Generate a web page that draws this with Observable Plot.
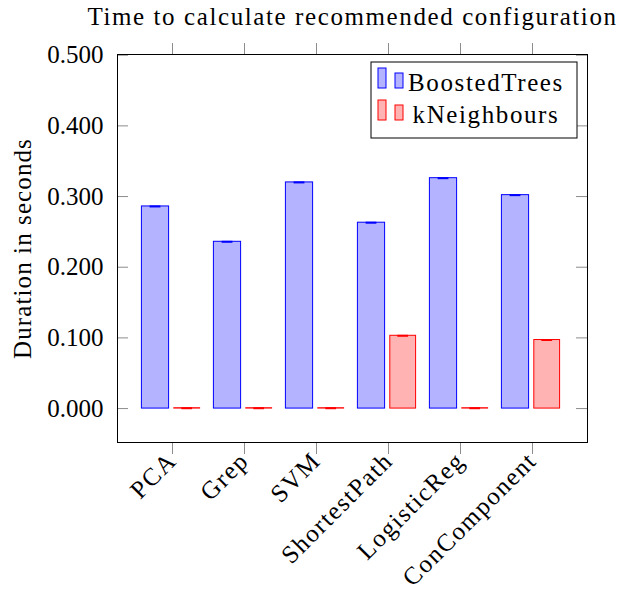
<!DOCTYPE html>
<html><head><meta charset="utf-8">
<script src="https://cdn.jsdelivr.net/npm/d3@7"></script>
<script src="https://cdn.jsdelivr.net/npm/@observablehq/plot@0.6"></script>
<style>body{margin:0;background:#fff}</style>
</head><body><div id="chart"></div>
<script>
const categories = ["PCA", "Grep", "SVM", "ShortestPath", "LogisticReg", "ConComponent"];
const seriesNames = ["BoostedTrees", "kNeighbours"];
const boostedTrees = [0.286, 0.236, 0.320, 0.263, 0.326, 0.302];
const boostedErr = [0.001, 0.001, 0.001, 0.0005, 0.001, 0.001];
const kNeighbours = [0.0005, 0.0005, 0.0005, 0.103, 0.0005, 0.097];
const kNeighboursErr = [0.0005, 0.0005, 0.0005, 0.0005, 0.0005, 0.0005];
const yTicks = [0, 0.1, 0.2, 0.3, 0.4, 0.5];
const titleText = "Time to calculate recommended configuration";
const yLabelText = "Duration in seconds";

const W = 620, H = 590, mL = 117, mR = 33, mT = 54, mB = 148;
const fw = W - mL - mR;
const FONT = "'Liberation Serif', 'Times New Roman', serif";
const FS = 25;
const blueFill = "#b3b3ff", blueStroke = "#0000ff";
const redFill = "#ffb3b3", redStroke = "#ff0000";
const tickGray = "#8c8c8c";

const bt = categories.map((c, i) => ({cat: c, v: boostedTrees[i], e: boostedErr[i]}));
const kn = categories.map((c, i) => ({cat: c, v: kNeighbours[i], e: kNeighboursErr[i]}));

const plot = Plot.plot({
  width: W, height: H,
  marginLeft: mL, marginRight: mR, marginTop: mT, marginBottom: mB,
  style: {fontFamily: FONT, fontSize: FS + "px", color: "black", background: "white", overflow: "visible"},
  x: {domain: categories, paddingInner: 0, paddingOuter: 0.255, label: null},
  y: {domain: [-0.048, 0.501], label: null},
  marks: [
    Plot.ruleY(yTicks, {y: d => d, stroke: tickGray, insetRight: fw - 11}),
    Plot.ruleY(yTicks, {y: d => d, stroke: tickGray, insetLeft: fw - 11}),
    Plot.barY(bt, {x: "cat", y: "v", fill: blueFill, stroke: blueStroke, strokeWidth: 1, insetLeft: 5.4, insetRight: 39.4}),
    Plot.barY(kn, {x: "cat", y: "v", fill: redFill, stroke: redStroke, strokeWidth: 1, insetLeft: 37.8, insetRight: 8.4}),
    Plot.tickY(bt, {x: "cat", y: "v", stroke: blueStroke, strokeWidth: 2, insetLeft: 13.6, insetRight: 47.6}),
    Plot.tickY(kn, {x: "cat", y: "v", stroke: redStroke, strokeWidth: 2, insetLeft: 45.3, insetRight: 15.9}),
    Plot.axisY({ticks: yTicks, tickFormat: d3.format(".3f"), tickSize: 0, tickPadding: 14, label: null, fontSize: FS, fill: "black"}),
    Plot.axisX({anchor: "bottom", tickSize: 12, stroke: tickGray, fill: "black", tickRotate: -45, tickPadding: 2, label: null, fontSize: FS}),
    Plot.axisX({anchor: "top", tickSize: 12, stroke: tickGray, tickFormat: () => "", label: null}),
    Plot.frame({stroke: "black", strokeWidth: 1}),
    Plot.text([titleText], {frameAnchor: "top", dy: -38, fontSize: FS, fill: "black", lineAnchor: "middle", textAnchor: "middle"}),
    Plot.text([yLabelText], {frameAnchor: "left", dx: -95, rotate: -90, fontSize: FS, fill: "black", lineAnchor: "middle", textAnchor: "middle"})
  ]
});

document.getElementById("chart").appendChild(plot);

// legend (pgfplots style, inside top-right)
const svg = d3.select(plot);
const lx = mL + fw - 216, ly = mT + 8, lw = 206, lh = 76;
const lg = svg.append("g");
lg.append("rect").attr("x", lx).attr("y", ly).attr("width", lw).attr("height", lh)
  .attr("fill", "white").attr("stroke", "black").attr("stroke-width", 1);
const legendItems = [
  {name: seriesNames[0], fill: blueFill, stroke: blueStroke},
  {name: seriesNames[1], fill: redFill, stroke: redStroke}
];
legendItems.forEach((it, i) => {
  const yb = ly + 26 + i * 32;
  lg.append("rect").attr("x", lx + 7).attr("y", yb - 20).attr("width", 8).attr("height", 20)
    .attr("fill", it.fill).attr("stroke", it.stroke);
  lg.append("rect").attr("x", lx + 24).attr("y", yb - 15).attr("width", 8).attr("height", 15)
    .attr("fill", it.fill).attr("stroke", it.stroke);
  lg.append("text").attr("x", lx + 115).attr("y", yb + 3).attr("text-anchor", "middle")
    .attr("font-family", FONT).attr("font-size", FS).attr("fill", "black").text(it.name);
});

// widen word glyph spacing to approximate Computer Modern metrics
svg.selectAll("text").each(function() {
  const t = this.textContent;
  if (t && !/^[\d.\s]+$/.test(t)) {
    d3.select(this).attr("letter-spacing", t === yLabelText ? 1.1 : 1.6);
  }
});
</script>
</body></html>
